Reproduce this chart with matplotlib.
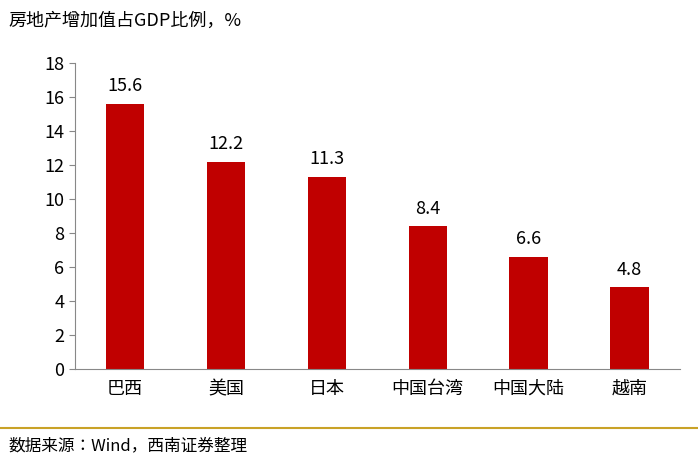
import matplotlib
matplotlib.use("Agg")
import matplotlib.pyplot as plt
from matplotlib.lines import Line2D
from matplotlib import font_manager as fm

cjk = None
for f in fm.findSystemFonts():
    n = f.lower()
    if "cjk" in n and ("sc" in n or "ttc" in n or "otf" in n):
        cjk = f
        if "sc" in n.split("/")[-1]:
            break
if cjk:
    fm.fontManager.addfont(cjk)
    name = fm.FontProperties(fname=cjk).get_name()
else:
    name = "Noto Sans CJK SC"
plt.rcParams['font.family'] = [name, 'DejaVu Sans']

categories = ["巴西", "美国", "日本", "中国台湾", "中国大陆", "越南"]
values = [15.6, 12.2, 11.3, 8.4, 6.6, 4.8]
yticks = [0, 2, 4, 6, 8, 10, 12, 14, 16, 18]

fig = plt.figure(figsize=(6.98, 4.67), dpi=100)
ax = fig.add_axes([0.107, 0.210, 0.867, 0.655])
x = range(len(categories))
ax.bar(x, values, width=0.38, color="#C00000")
for xi, v in zip(x, values):
    ax.text(xi, v + 0.5, f"{v}", ha="center", va="bottom", fontsize=13)
ax.set_xlim(-0.5, len(categories) - 0.5)
ax.set_ylim(0, 18)
ax.set_yticks(yticks)
ax.set_xticks(list(x))
ax.set_xticklabels(categories, fontsize=13)
ax.tick_params(axis="y", labelsize=13, direction="out", length=4, color="#888888")
ax.tick_params(axis="x", length=0, pad=8)
for s in ["top", "right"]:
    ax.spines[s].set_visible(False)
for s in ["left", "bottom"]:
    ax.spines[s].set_color("#888888")

fig.text(0.012, 0.955, "房地产增加值占GDP比例，%", fontsize=13, va="center", ha="left")
fig.add_artist(Line2D([0.0, 1.0], [0.083, 0.083], color="#C9A227", lw=1.5, transform=fig.transFigure))
fig.text(0.012, 0.045, "数据来源：Wind，西南证券整理", fontsize=12, style="italic", va="center", ha="left")

fig.savefig("out.png", dpi=100)
